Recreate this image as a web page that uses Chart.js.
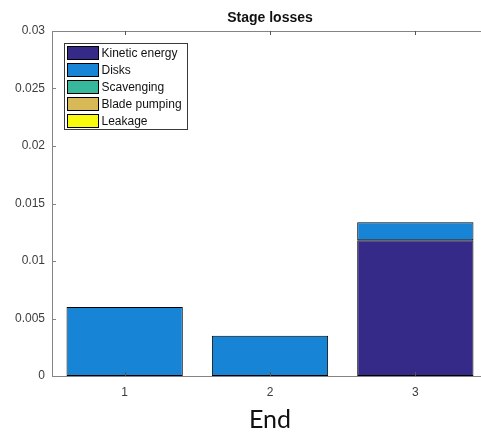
<!DOCTYPE html>
<html>
<head>
<meta charset="utf-8">
<title>Stage losses</title>
<script src="https://cdn.jsdelivr.net/npm/chart.js@4/dist/chart.umd.min.js"></script>
<style>
  html, body { margin: 0; padding: 0; background: #fff; overflow: hidden; width: 481px; height: 436px; }
  #wrap { position: absolute; left: 0; top: 0; width: 481px; height: 436px; overflow: hidden; }
  #c { position: absolute; left: 0; top: 0; display: block; }
</style>
</head>
<body>
<div id="wrap"><canvas id="c" width="490" height="436" style="width:490px;height:436px"></canvas></div>
<script>
// Stages along the x axis
const stages = ['1', '2', '3'];

// Loss components per stage (stacked)
const kineticEnergy = [0, 0, 0.0118];
const disks         = [0.0060, 0.0035, 0.00157];
const scavenging    = [0, 0, 0];
const bladePumping  = [0, 0, 0];
const leakage       = [0, 0, 0];

const seriesNames  = ['Kinetic energy', 'Disks', 'Scavenging', 'Blade pumping', 'Leakage'];
const seriesColors = ['#352a87', '#1784d6', '#37b89d', '#d7b957', '#f9fb0e'];

// Y axis range and tick step
const yMin = 0, yMax = 0.03, yStep = 0.005;

const titleText = 'Stage losses';
const xTitle = 'End';

const axisColor = '#848484';
const textColor = '#3c3c3c';
const FONT = '"Liberation Sans", Arial, Helvetica, sans-serif';

const seriesValues = [kineticEnergy, disks, scavenging, bladePumping, leakage];
const datasets = seriesNames.map((name, i) => ({
  label: name,
  data: seriesValues[i],
  backgroundColor: seriesColors[i],
  borderColor: '#000000',
  borderWidth: 1,
  borderSkipped: false,
  barPercentage: 0.8,
  categoryPercentage: 1.0
}));

// Top box edge, inward tick marks, title and in-plot legend
const matlabAxes = {
  id: 'matlabAxes',
  afterDraw(chart) {
    const ctx = chart.ctx;
    const a = chart.chartArea;
    const xs = chart.scales.x, ys = chart.scales.y;
    const tl = 4;
    ctx.save();
    ctx.strokeStyle = axisColor;
    ctx.lineWidth = 1;
    ctx.beginPath();
    ctx.moveTo(a.left, a.top + 0.5); ctx.lineTo(a.right, a.top + 0.5);
    ys.ticks.forEach(t => {
      const y = Math.round(ys.getPixelForValue(t.value)) + 0.5;
      ctx.moveTo(a.left, y); ctx.lineTo(a.left + tl, y);
    });
    ctx.stroke();
    ctx.strokeStyle = '#555555';
    ctx.beginPath();
    stages.forEach((s, i) => {
      const x = Math.round(xs.getPixelForValue(i)) + 0.5;
      ctx.moveTo(x, a.bottom); ctx.lineTo(x, a.bottom - tl);
      ctx.moveTo(x, a.top); ctx.lineTo(x, a.top + tl);
    });
    ctx.stroke();

    // title
    ctx.fillStyle = '#111111';
    ctx.font = 'bold 14px ' + FONT;
    ctx.textAlign = 'center';
    ctx.textBaseline = 'middle';
    ctx.fillText(titleText, (a.left + a.right) / 2, 18);

    // legend
    const lx = 64.5, ly = 43.5, lw = 123, rowH = 17;
    const lh = rowH * chart.data.datasets.length + 1;
    ctx.fillStyle = '#ffffff';
    ctx.fillRect(lx, ly, lw, lh);
    ctx.strokeStyle = '#3a3a3a';
    ctx.strokeRect(lx, ly, lw, lh);
    ctx.font = '12px ' + FONT;
    ctx.textAlign = 'left';
    chart.data.datasets.forEach((ds, i) => {
      const cy = ly + 3 + i * rowH;
      ctx.fillStyle = ds.backgroundColor;
      ctx.fillRect(lx + 3, cy, 31, 13);
      ctx.strokeStyle = '#000000';
      ctx.strokeRect(lx + 3, cy, 31, 13);
      ctx.fillStyle = '#111111';
      ctx.fillText(ds.label, lx + 37, cy + 7);
    });
    ctx.restore();
  }
};

new Chart(document.getElementById('c'), {
  type: 'bar',
  data: { labels: stages, datasets },
  options: {
    responsive: false,
    animation: false,
    devicePixelRatio: 1,
    layout: { padding: { top: 31, right: 2, left: 0, bottom: 0 } },
    plugins: { legend: { display: false }, title: { display: false }, tooltip: { enabled: false } },
    scales: {
      x: {
        stacked: true,
        grid: { display: false, drawTicks: false },
        border: { display: true, color: axisColor, width: 1 },
        ticks: { color: textColor, font: { family: FONT, size: 12 }, padding: 9, maxRotation: 0 },
        title: { display: true, text: xTitle, color: '#111111', font: { family: 'Lato, "Open Sans", sans-serif', size: 25 }, padding: { top: 0, bottom: 1 } },
        afterFit(scale) { scale.height = 60; }
      },
      y: {
        stacked: true,
        min: yMin, max: yMax,
        grid: { display: false, drawTicks: false },
        border: { display: true, color: axisColor, width: 1 },
        ticks: {
          stepSize: yStep,
          color: textColor,
          font: { family: FONT, size: 12 },
          padding: 7,
          callback: v => String(parseFloat(Number(v).toFixed(4)))
        },
        afterFit(scale) { scale.width = 52; }
      }
    }
  },
  plugins: [matlabAxes]
});
</script>
</body>
</html>
